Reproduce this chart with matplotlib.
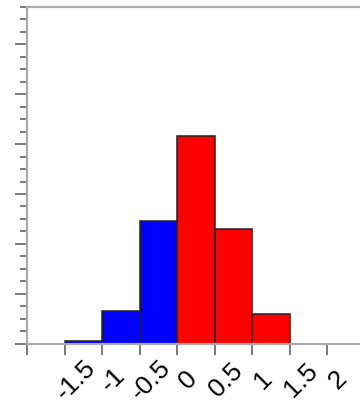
"""Histogram of a centred sample, bins split by sign (blue below zero, red above)."""

import matplotlib
matplotlib.use('Agg')
import matplotlib.pyplot as plt
from matplotlib.ticker import MultipleLocator
from matplotlib.transforms import ScaledTranslation

# Bin edges and density per bin
bin_edges = [-1.5, -1.0, -0.5, 0.0, 0.5, 1.0, 1.5]
density = [0.012, 0.131, 0.492, 0.832, 0.46, 0.12]

x_ticks = [-2, -1.5, -1, -0.5, 0, 0.5, 1, 1.5, 2]
x_tick_labels = ['', '-1.5', '-1', '-0.5', '0', '0.5', '1', '1.5', '2']

plt.rcParams['font.family'] = ['Liberation Sans', 'DejaVu Sans']

fig = plt.figure(figsize=(3.6, 4.09), dpi=100)
ax = fig.add_axes([0.075, 0.159, 0.925, 0.825])

lefts = bin_edges[:-1]
widths = [b - a for a, b in zip(bin_edges[:-1], bin_edges[1:])]
colors = ['#0000ff' if left < 0 else '#ff0000' for left in lefts]
ax.bar(lefts, density, width=widths, align='edge', color=colors,
       edgecolor='#222222', linewidth=1.1)

ax.set_xlim(-2, 2.44)
ax.set_ylim(0, 1.35)

# Spines: light grey frame, right side runs off the canvas
for side in ('left', 'bottom', 'top'):
    ax.spines[side].set_color('#aaaaaa')
    ax.spines[side].set_linewidth(1.6)
ax.spines['right'].set_visible(False)

ax.yaxis.set_major_locator(MultipleLocator(0.2))
ax.yaxis.set_minor_locator(MultipleLocator(0.05))
ax.tick_params(axis='y', which='major', length=8.6, width=1.1,
               color='#555555', labelleft=False)
ax.tick_params(axis='y', which='minor', length=5, width=1.1, color='#555555')

ax.set_xticks(x_ticks)
ax.set_xticklabels(x_tick_labels, fontsize=19, rotation=45,
                   rotation_mode='anchor', ha='center', va='center')
ax.tick_params(axis='x', which='major', length=8, width=1.1,
               color='#555555', pad=18)

# Nudge the rotated labels right so they sit diagonally below each tick
shift = ScaledTranslation(11 / 100, 0, fig.dpi_scale_trans)
for label in ax.get_xticklabels():
    label.set_transform(label.get_transform() + shift)

plt.savefig('out.png', dpi=100)
plt.close()
